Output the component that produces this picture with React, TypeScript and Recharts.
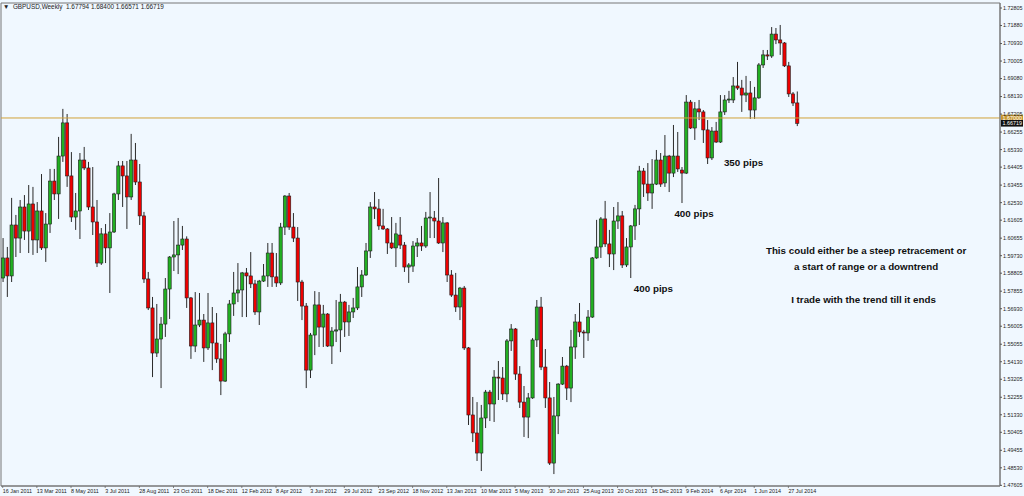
import React from 'react';
import {
    ComposedChart,
    Bar,
    XAxis,
    YAxis,
    ReferenceLine,
    ReferenceArea,
    ReferenceDot,
} from 'recharts';

// GBPUSD weekly, 16 Jan 2011 .. 10 Aug 2014
const opens = [
    1.5855, 1.5961, 1.5866, 1.6135, 1.6066, 1.623, 1.6103, 1.6246, 1.6056, 1.6209,
    1.6014, 1.614, 1.6367, 1.6299, 1.6499, 1.6674, 1.6394, 1.6177, 1.6209, 1.6478,
    1.6436, 1.623, 1.6151, 1.5934, 1.6088, 1.6014, 1.6098, 1.6299, 1.6447, 1.6394,
    1.6283, 1.6478, 1.6362, 1.6183, 1.585, 1.5697, 1.5459, 1.5533, 1.5612, 1.5797,
    1.5966, 1.5977, 1.6029, 1.6061, 1.575, 1.5496, 1.5607, 1.5633, 1.5486, 1.5618,
    1.5512, 1.5428, 1.5311, 1.556, 1.5718, 1.5776, 1.5792, 1.5882, 1.5866, 1.5824,
    1.5676, 1.5839, 1.5866, 1.5987, 1.5861, 1.5829, 1.6124, 1.6288, 1.6124, 1.6066,
    1.5834, 1.5707, 1.5369, 1.5554, 1.5713, 1.5596, 1.5665, 1.5496, 1.5575, 1.5581,
    1.5728, 1.5623, 1.5676, 1.5697, 1.5808, 1.5871, 1.5998, 1.623, 1.622, 1.613,
    1.6114, 1.604, 1.6014, 1.6082, 1.6029, 1.5913, 1.5918, 1.6024, 1.604, 1.6024,
    1.6172, 1.6172, 1.6156, 1.604, 1.6146, 1.5871, 1.5765, 1.5702, 1.5802, 1.5486,
    1.5132, 1.5037, 1.4931, 1.5116, 1.5253, 1.519, 1.5332, 1.5327, 1.5243, 1.5523,
    1.5586, 1.5348, 1.52, 1.5121, 1.5222, 1.5528, 1.5702, 1.5385, 1.5222, 1.4878,
    1.5127, 1.5295, 1.539, 1.5274, 1.5491, 1.5623, 1.557, 1.5565, 1.5649, 1.5961,
    1.6019, 1.6167, 1.6035, 1.5982, 1.6156, 1.6183, 1.5924, 1.6019, 1.613, 1.622,
    1.642, 1.6351, 1.6304, 1.6351, 1.6478, 1.6357, 1.6499, 1.6409, 1.6499, 1.6425,
    1.6409, 1.6784, 1.6647, 1.6748, 1.6732, 1.6637, 1.6489, 1.6631, 1.6573, 1.6732,
    1.6795, 1.6795, 1.6869, 1.6858, 1.6821, 1.6832, 1.6742, 1.6806, 1.698, 1.7033,
    1.7027, 1.7143, 1.7112, 1.7096, 1.6975, 1.6827, 1.67794,
];

const highs = [
    1.6066, 1.6019, 1.6278, 1.6188, 1.6267, 1.6293, 1.6346, 1.6336, 1.6256, 1.6404,
    1.6198, 1.6431, 1.6431, 1.66, 1.6748, 1.6721, 1.652, 1.6304, 1.6515, 1.6547,
    1.6468, 1.6441, 1.6267, 1.6119, 1.614, 1.6198, 1.6305, 1.6473, 1.6473, 1.6473,
    1.6616, 1.6568, 1.6457, 1.6204, 1.5887, 1.5755, 1.5718, 1.5649, 1.5855, 1.5971,
    1.6156, 1.6172, 1.613, 1.6075, 1.5755, 1.5781, 1.5776, 1.5665, 1.5776, 1.5702,
    1.567, 1.5507, 1.5571, 1.5739, 1.5887, 1.5934, 1.5887, 1.5908, 1.5992, 1.5845,
    1.5845, 1.5929, 1.604, 1.604, 1.5987, 1.6146, 1.6293, 1.6304, 1.6198, 1.6124,
    1.5845, 1.5723, 1.5565, 1.5786, 1.5781, 1.5713, 1.567, 1.5596, 1.5739, 1.5771,
    1.5734, 1.5713, 1.575, 1.5913, 1.5897, 1.604, 1.6256, 1.6309, 1.6272, 1.622,
    1.6119, 1.6177, 1.6146, 1.6177, 1.6045, 1.5934, 1.605, 1.6066, 1.613, 1.6204,
    1.6309, 1.6209, 1.6383, 1.6177, 1.6151, 1.5897, 1.5882, 1.5808, 1.5813, 1.5491,
    1.5227, 1.52, 1.5185, 1.5264, 1.5264, 1.5369, 1.5417, 1.5385, 1.5533, 1.5612,
    1.5591, 1.539, 1.5285, 1.5248, 1.5538, 1.5739, 1.5755, 1.548, 1.5306, 1.5227,
    1.53, 1.5438, 1.5396, 1.5581, 1.5665, 1.5723, 1.5581, 1.5686, 1.5966, 1.6162,
    1.6177, 1.6262, 1.6109, 1.623, 1.6256, 1.6209, 1.6066, 1.6135, 1.6241, 1.6447,
    1.6436, 1.6462, 1.6483, 1.6531, 1.6515, 1.661, 1.6505, 1.6663, 1.6626, 1.6441,
    1.6821, 1.6795, 1.6784, 1.6795, 1.6742, 1.6689, 1.6652, 1.6679, 1.6821, 1.6821,
    1.6843, 1.6916, 1.6996, 1.6901, 1.6922, 1.6895, 1.6864, 1.699, 1.7059, 1.7059,
    1.718, 1.7175, 1.7191, 1.7101, 1.6996, 1.6837, 1.684,
];

const lows = [
    1.5834, 1.5755, 1.5834, 1.5966, 1.5987, 1.6056, 1.5987, 1.5977, 1.5987, 1.6003,
    1.594, 1.6093, 1.6267, 1.6167, 1.6468, 1.6336, 1.6151, 1.6109, 1.6061, 1.6425,
    1.6214, 1.6082, 1.5913, 1.5924, 1.5934, 1.5776, 1.6093, 1.6267, 1.623, 1.6114,
    1.6267, 1.6346, 1.6135, 1.5829, 1.5686, 1.5332, 1.5438, 1.5274, 1.5544, 1.5639,
    1.5892, 1.5876, 1.6003, 1.5697, 1.5428, 1.5464, 1.5596, 1.5412, 1.5475, 1.5369,
    1.5407, 1.5237, 1.5306, 1.5517, 1.5655, 1.5728, 1.5649, 1.5649, 1.5802, 1.566,
    1.5607, 1.5834, 1.5808, 1.5808, 1.5808, 1.5818, 1.6082, 1.6109, 1.6045, 1.5734,
    1.5633, 1.5274, 1.5327, 1.5448, 1.5491, 1.5491, 1.5491, 1.5401, 1.5517, 1.5464,
    1.5544, 1.5549, 1.5644, 1.5686, 1.5755, 1.5866, 1.5961, 1.6167, 1.6109, 1.6109,
    1.5982, 1.6008, 1.5913, 1.6008, 1.5887, 1.5829, 1.5887, 1.5966, 1.5998, 1.6014,
    1.6066, 1.6066, 1.6035, 1.5992, 1.5834, 1.5755, 1.5676, 1.5633, 1.5475, 1.5079,
    1.4989, 1.4889, 1.4836, 1.5063, 1.51, 1.5095, 1.5211, 1.5211, 1.52, 1.547,
    1.5317, 1.5169, 1.5016, 1.501, 1.5217, 1.5491, 1.5369, 1.5169, 1.4868, 1.482,
    1.5031, 1.529, 1.5211, 1.52, 1.5428, 1.5544, 1.5433, 1.5523, 1.5644, 1.5956,
    1.5961, 1.6019, 1.5913, 1.5897, 1.6114, 1.5908, 1.5913, 1.5855, 1.6056, 1.6135,
    1.6283, 1.6262, 1.622, 1.6346, 1.6336, 1.6336, 1.6309, 1.6388, 1.6415, 1.6251,
    1.6404, 1.6642, 1.6584, 1.6689, 1.6568, 1.6457, 1.6478, 1.6568, 1.6568, 1.6716,
    1.6779, 1.6779, 1.6848, 1.6732, 1.6784, 1.6695, 1.6695, 1.6801, 1.6964, 1.7006,
    1.7017, 1.709, 1.7033, 1.6969, 1.6811, 1.6763, 1.66571,
];

const closes = [
    1.5961, 1.5866, 1.6135, 1.6066, 1.623, 1.6103, 1.6246, 1.6056, 1.6209, 1.6014,
    1.614, 1.6367, 1.6299, 1.6499, 1.6674, 1.6394, 1.6177, 1.6209, 1.6478, 1.6436,
    1.623, 1.6151, 1.5934, 1.6088, 1.6014, 1.6098, 1.6299, 1.6447, 1.6394, 1.6283,
    1.6478, 1.6362, 1.6183, 1.585, 1.5697, 1.5459, 1.5533, 1.5612, 1.5797, 1.5966,
    1.5977, 1.6029, 1.6061, 1.575, 1.5496, 1.5607, 1.5633, 1.5486, 1.5618, 1.5512,
    1.5428, 1.5311, 1.556, 1.5718, 1.5776, 1.5792, 1.5882, 1.5866, 1.5824, 1.5676,
    1.5839, 1.5866, 1.5987, 1.5861, 1.5829, 1.6124, 1.6288, 1.6124, 1.6066, 1.5834,
    1.5707, 1.5369, 1.5554, 1.5713, 1.5596, 1.5665, 1.5496, 1.5575, 1.5581, 1.5728,
    1.5623, 1.5676, 1.5697, 1.5808, 1.5871, 1.5998, 1.623, 1.622, 1.613, 1.6114,
    1.604, 1.6014, 1.6088, 1.6029, 1.5913, 1.5924, 1.6024, 1.604, 1.6024, 1.6172,
    1.6177, 1.6156, 1.604, 1.6146, 1.5871, 1.5765, 1.5702, 1.5802, 1.5486, 1.5132,
    1.5037, 1.4931, 1.5116, 1.5253, 1.519, 1.5332, 1.5327, 1.5243, 1.5523, 1.5586,
    1.5348, 1.52, 1.5121, 1.5222, 1.5528, 1.5702, 1.5385, 1.5222, 1.4878, 1.5127,
    1.5295, 1.539, 1.5274, 1.5491, 1.5623, 1.557, 1.5565, 1.5649, 1.5961, 1.6019,
    1.6167, 1.6035, 1.5982, 1.6156, 1.6183, 1.5924, 1.6019, 1.613, 1.622, 1.642,
    1.6351, 1.6304, 1.6351, 1.6478, 1.6351, 1.6499, 1.6409, 1.6499, 1.6431, 1.6409,
    1.6784, 1.6647, 1.6748, 1.6732, 1.6637, 1.6489, 1.6631, 1.6573, 1.6732, 1.6795,
    1.68, 1.6869, 1.6858, 1.6821, 1.6832, 1.6742, 1.6806, 1.698, 1.7033, 1.7027,
    1.7143, 1.7112, 1.7096, 1.6975, 1.6827, 1.6779, 1.66719,
];

// date labels shown every 8 weeks
const dateTicks = [0, 8, 16, 24, 32, 40, 48, 56, 64, 72, 80, 88, 96, 104, 112, 120, 128, 136, 144, 152, 160, 168, 176, 184];
const dateLabels = [
    '16 Jan 2011', '13 Mar 2011', '8 May 2011', '3 Jul 2011', '28 Aug 2011', '23 Oct 2011',
    '18 Dec 2011', '12 Feb 2012', '8 Apr 2012', '3 Jun 2012', '29 Jul 2012', '23 Sep 2012',
    '18 Nov 2012', '13 Jan 2013', '10 Mar 2013', '5 May 2013', '30 Jun 2013', '25 Aug 2013',
    '20 Oct 2013', '15 Dec 2013', '9 Feb 2014', '6 Apr 2014', '1 Jun 2014', '27 Jul 2014',
];

const priceTicks = [
    1.72805, 1.7188, 1.7093, 1.70005, 1.6908, 1.6813, 1.67205, 1.66255, 1.6533, 1.64405,
    1.63455, 1.6253, 1.61605, 1.60655, 1.5973, 1.58805, 1.57855, 1.5693, 1.56005, 1.55055,
    1.5413, 1.53205, 1.52255, 1.5133, 1.50405, 1.49455, 1.4853, 1.47605,
];

const levelLine = 1.67;
const lastClose = 1.66719;

const notes = [
    { text: '350 pips', i: 173.5, p: 1.6464 },
    { text: '400 pips', i: 161.9, p: 1.6193 },
    { text: '400 pips', i: 152.4, p: 1.5797 },
    { text: 'This could either be a steep retracement or', i: 202.2, p: 1.5998 },
    { text: 'a start of range or a downtrend', i: 202.2, p: 1.5913 },
    { text: 'I trade with the trend till it ends', i: 201.6, p: 1.5739 },
];

const candles = opens.map((o, i) => ({
    i,
    open: o,
    high: highs[i],
    low: lows[i],
    close: closes[i],
    range: [lows[i], highs[i]],
}));

const FONT = '"Liberation Sans", Arial, sans-serif';

const Candle = (props: any) => {
    const { x, y, width, height, payload } = props;
    if (!payload || height == null) return null;
    const top = Math.min(y, y + height);
    const span = Math.abs(height);
    const { open, close, high, low } = payload;
    const k = high > low ? span / (high - low) : 0;
    const py = (v: number) => top + (high - v) * k;
    const cx = x + width / 2;
    const up = close >= open;
    const bTop = py(Math.max(open, close));
    const bH = Math.max(py(Math.min(open, close)) - bTop, 1);
    return (
        <g>
            <line x1={cx} x2={cx} y1={top} y2={top + span} stroke="#2a2a2a" strokeWidth={1} />
            <rect
                x={cx - 1.6}
                y={bTop}
                width={3.2}
                height={bH}
                fill={up ? '#22b022' : '#ee0000'}
                stroke="#1c1c1c"
                strokeWidth={0.6}
            />
        </g>
    );
};

const DateTick = ({ x, y, payload }: any) => {
    const idx = dateTicks.indexOf(payload.value);
    return (
        <g>
            <line x1={x} x2={x} y1={y} y2={y + 2} stroke="#666" strokeWidth={0.8} />
            <text x={x} y={y + 7} fontSize={5.4} fill="#222" fontFamily={FONT} textAnchor="start">
                {dateLabels[idx]}
            </text>
        </g>
    );
};

const PriceTag = ({ viewBox, text, bg, fg }: any) => {
    if (!viewBox) return null;
    const x = viewBox.x + viewBox.width + 1;
    const y = viewBox.y;
    return (
        <g>
            <rect x={x} y={y - 3.3} width={22} height={6.6} fill={bg} />
            <text x={x + 1.5} y={y} dy="0.36em" fontSize={5.4} fill={fg} fontFamily={FONT}>
                {text}
            </text>
        </g>
    );
};

const Note = ({ cx, cy, text }: any) => (
    <text
        x={cx}
        y={cy}
        dy="0.35em"
        textAnchor="middle"
        fontSize={9.8}
        fontWeight="bold"
        fill="#111"
        fontFamily={FONT}
    >
        {text}
    </text>
);

const App = () => {
    return (
        <div style={{ position: 'relative', width: 1024, height: 496, background: '#f0f8ff' }}>
            <style>{'body{margin:0;background:#f0f8ff}'}</style>
            <div
                style={{
                    position: 'absolute',
                    left: 3,
                    top: 3,
                    fontFamily: FONT,
                    fontSize: 6.4,
                    color: '#222',
                    whiteSpace: 'pre',
                    lineHeight: '8px',
                    zIndex: 2,
                }}
            >
                {'\u25BC  GBPUSD,Weekly  1.67794 1.68400 1.66571 1.66719'}
            </div>
            <ComposedChart
                width={1024}
                height={496}
                data={candles}
                margin={{ top: 3, right: 0, bottom: 0, left: 1 }}
            >
                <XAxis
                    dataKey="i"
                    type="number"
                    domain={[-0.4, 233.56]}
                    allowDataOverflow
                    ticks={dateTicks}
                    interval={0}
                    tick={<DateTick />}
                    tickLine={false}
                    tickSize={0}
                    tickMargin={0}
                    axisLine={{ stroke: '#777' }}
                    height={10}
                />
                <YAxis
                    orientation="right"
                    type="number"
                    domain={[1.4757, 1.7307]}
                    allowDataOverflow
                    ticks={priceTicks}
                    interval={0}
                    tickFormatter={(v: number) => v.toFixed(5)}
                    tick={{ fontSize: 5.4, fill: '#222', fontFamily: FONT }}
                    tickSize={2}
                    tickMargin={1}
                    tickLine={{ stroke: '#555' }}
                    axisLine={{ stroke: '#777' }}
                    width={24}
                />
                <ReferenceArea
                    x1={-0.4}
                    x2={233.56}
                    y1={1.4757}
                    y2={1.7307}
                    fill="none"
                    stroke="#777"
                    strokeWidth={1}
                />
                <ReferenceLine
                    y={levelLine}
                    stroke="#d1a23a"
                    strokeWidth={1}
                    label={<PriceTag text="1.67000" bg="#c9982e" fg="#fff" />}
                />
                <ReferenceLine
                    y={lastClose}
                    stroke="none"
                    strokeOpacity={0}
                    label={<PriceTag text="1.66719" bg="#111" fg="#fff" />}
                />
                <Bar
                    dataKey="range"
                    barSize={3}
                    isAnimationActive={false}
                    shape={<Candle />}
                />
                {notes.map((n, k) => (
                    <ReferenceDot
                        key={k}
                        x={n.i}
                        y={n.p}
                        r={0}
                        shape={(p: any) => <Note cx={p.cx} cy={p.cy} text={n.text} />}
                    />
                ))}
            </ComposedChart>
        </div>
    );
};

export default App;
